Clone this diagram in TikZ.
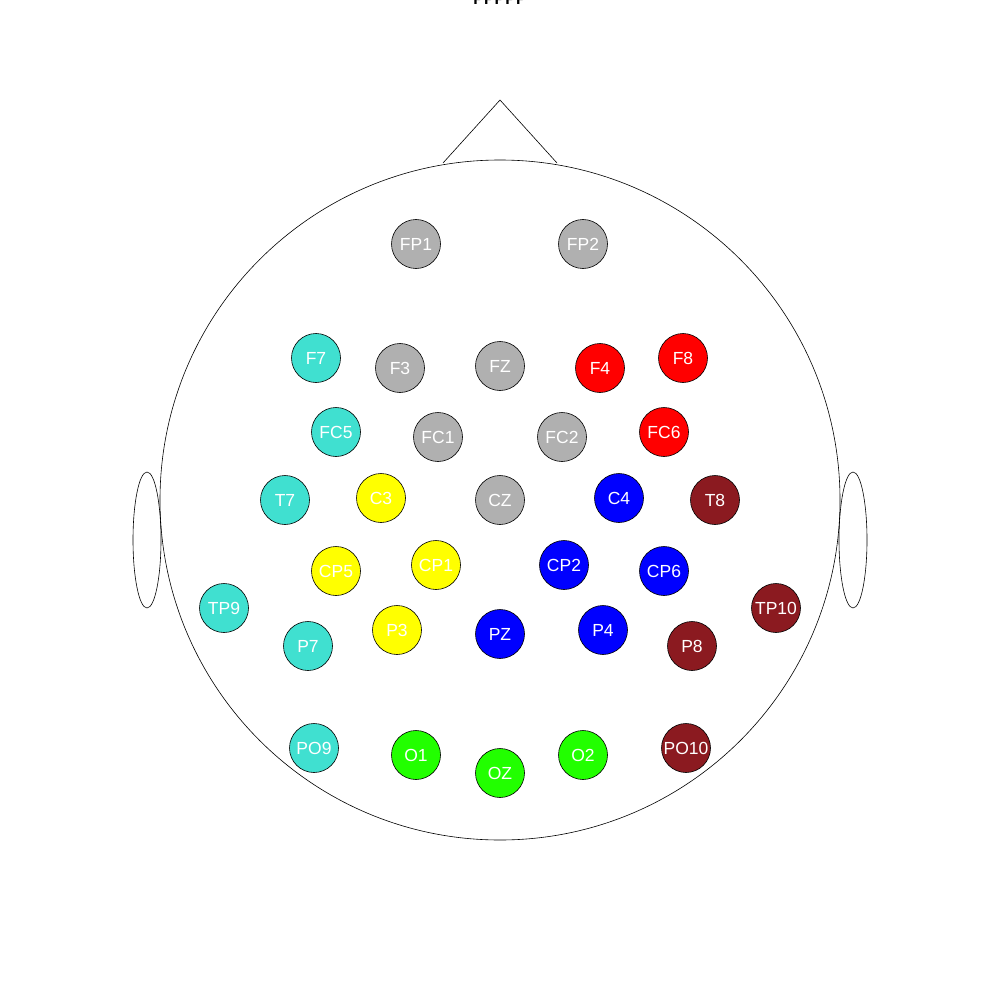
\documentclass[tikz,border=0pt]{standalone}
\usepackage{fontspec}
\setmainfont{Liberation Sans}
\definecolor{elturq}{RGB}{64,224,208}
\definecolor{elgray}{RGB}{176,176,176}
\definecolor{elred}{RGB}{255,0,0}
\definecolor{elyel}{RGB}{255,255,0}
\definecolor{elblue}{RGB}{0,0,255}
\definecolor{elgreen}{RGB}{34,255,0}
\definecolor{eldark}{RGB}{139,26,32}
\tikzset{
  elec/.style={circle, draw=black, line width=0.6pt, minimum size=49pt, inner sep=0pt,
    text=white, font=\fontsize{17.5}{17.5}\selectfont},
}
\begin{document}
\begin{tikzpicture}[x=1pt,y=-1pt,line width = 0.6pt]
\useasboundingbox (0,0) rectangle (1000,1000);
\node[font=\bfseries\fontsize{16}{16}\selectfont, anchor=base] (title) at (500,5) {PPPPP};
% head
\draw (500,500) circle [radius = 340];
\draw (443,163) -- (500,100) -- (557,163);
\draw (147,540) ellipse [x radius = 14, y radius = 68];
\draw (853,540) ellipse [x radius = 14, y radius = 68];
% electrodes
\node[elec, fill=elgray] (FP1) at (416,244) {FP1};
\node[elec, fill=elgray] (FP2) at (583,244) {FP2};
\node[elec, fill=elturq] (F7) at (316,358) {F7};
\node[elec, fill=elgray] (F3) at (400,368) {F3};
\node[elec, fill=elgray] (FZ) at (500,366) {FZ};
\node[elec, fill=elred] (F4) at (600,368) {F4};
\node[elec, fill=elred] (F8) at (683,358) {F8};
\node[elec, fill=elturq] (FC5) at (336,432) {FC5};
\node[elec, fill=elgray] (FC1) at (438,437) {FC1};
\node[elec, fill=elgray] (FC2) at (562,437) {FC2};
\node[elec, fill=elred] (FC6) at (664,432) {FC6};
\node[elec, fill=elturq] (T7) at (285,500) {T7};
\node[elec, fill=elyel] (C3) at (381,498) {C3};
\node[elec, fill=elgray] (CZ) at (500,500) {CZ};
\node[elec, fill=elblue] (C4) at (619,498) {C4};
\node[elec, fill=eldark] (T8) at (715,500) {T8};
\node[elec, fill=elyel] (CP5) at (336,571) {CP5};
\node[elec, fill=elyel] (CP1) at (436,565) {CP1};
\node[elec, fill=elblue] (CP2) at (564,565) {CP2};
\node[elec, fill=elblue] (CP6) at (664,571) {CP6};
\node[elec, fill=elturq] (TP9) at (224,608) {TP9};
\node[elec, fill=elturq] (P7) at (308,646) {P7};
\node[elec, fill=elyel] (P3) at (397,630) {P3};
\node[elec, fill=elblue] (PZ) at (500,634) {PZ};
\node[elec, fill=elblue] (P4) at (603,630) {P4};
\node[elec, fill=eldark] (P8) at (692,646) {P8};
\node[elec, fill=eldark] (TP10) at (776,608) {TP10};
\node[elec, fill=elturq] (PO9) at (314,748) {PO9};
\node[elec, fill=elgreen] (O1) at (416,755) {O1};
\node[elec, fill=elgreen] (OZ) at (500,773) {OZ};
\node[elec, fill=elgreen] (O2) at (583,755) {O2};
\node[elec, fill=eldark] (PO10) at (686,748) {PO10};
\end{tikzpicture}
\end{document}
